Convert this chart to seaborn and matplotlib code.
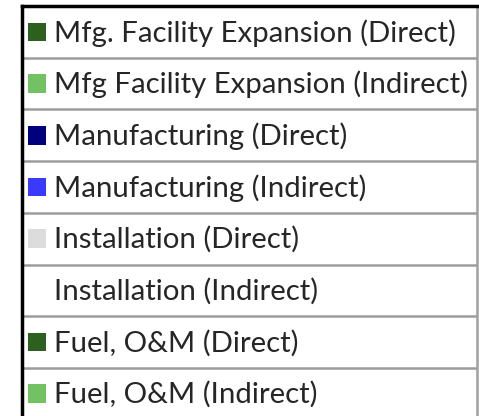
import matplotlib
matplotlib.use("Agg")
import matplotlib.pyplot as plt
import seaborn as sns
import pandas as pd

labels = [
    "Mfg. Facility Expansion (Direct)",
    "Mfg Facility Expansion (Indirect)",
    "Manufacturing (Direct)",
    "Manufacturing (Indirect)",
    "Installation (Direct)",
    "Installation (Indirect)",
    "Fuel, O&M (Direct)",
    "Fuel, O&M (Indirect)",
]
colors = ["#2D5F1F", "#72C264", "#00007F", "#3A3AFF", "#DCDCDC", "#FFFFFF", "#2D5F1F", "#72C264"]

sns.set_theme(style="white")
plt.rcParams["font.family"] = ["Lato", "DejaVu Sans"]

W, H = 479, 416
fig = plt.figure(figsize=(W / 100, H / 100), dpi=100)
left_px, right_px, top_px = 22, 477, 6
ax = fig.add_axes([left_px / W, 0, (right_px - left_px) / W, (H - top_px) / H])

row_h = 51.7
n_rows_vis = (H - top_px) / row_h
df = pd.DataFrame({"row": list(range(len(labels))), "x": [15] * len(labels), "label": labels})

sns.scatterplot(data=df, x="x", y="row", hue="label", palette=dict(zip(labels, colors)),
                marker="s", s=180, linewidth=0, legend=False, ax=ax, zorder=3)

for i, lab in enumerate(labels):
    ax.text(32, i + 0.02, lab, va="center", ha="left", fontsize=21.2, color="#262626")
    if i < len(labels) - 1:
        ax.axhline(i + 0.5, color="#BDBDBD", lw=2.2, zorder=1)
        ax.axhline(i + 0.5, color="#9A9A9A", lw=1.0, zorder=2)

ax.set_xlim(0, right_px - left_px)
ax.set_ylim(-0.5 + n_rows_vis, -0.5)
ax.set_xticks([])
ax.set_yticks([])
ax.set_xlabel("")
ax.set_ylabel("")
ax.spines["bottom"].set_visible(False)
ax.spines["top"].set_color("black")
ax.spines["top"].set_linewidth(2.5)
ax.spines["left"].set_color("black")
ax.spines["left"].set_linewidth(2.5)
ax.spines["right"].set_color("#A0A0A0")
ax.spines["right"].set_linewidth(1.8)

fig.savefig("out.png", dpi=100)
